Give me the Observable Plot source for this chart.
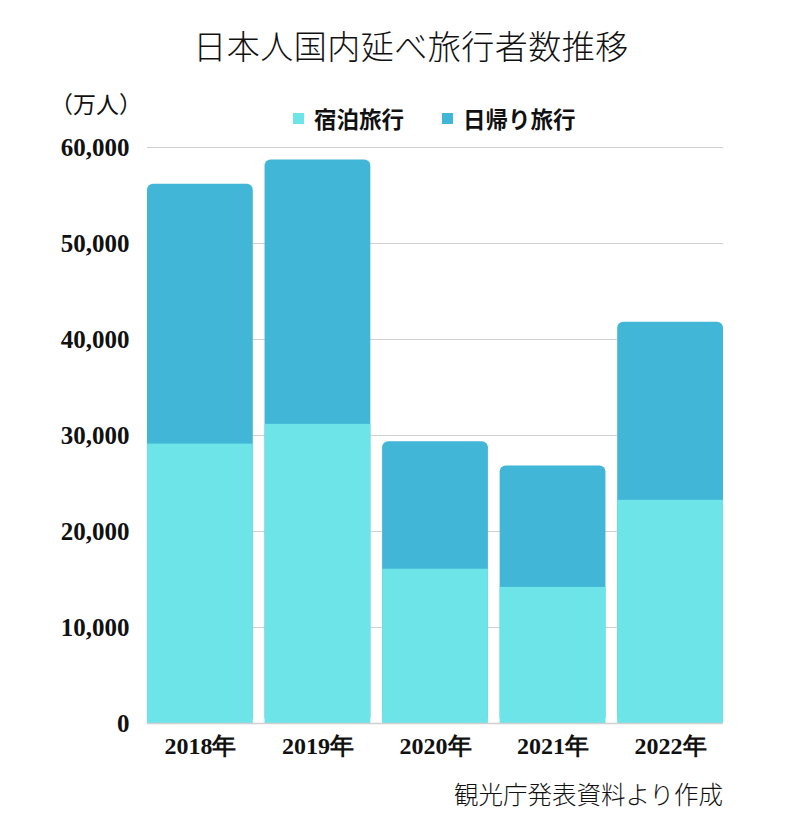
<!DOCTYPE html>
<html><head><meta charset="utf-8">
<script src="https://cdn.jsdelivr.net/npm/d3@7"></script>
<script src="https://cdn.jsdelivr.net/npm/@observablehq/plot@0.6"></script>
<style>
body{margin:0;background:#fff;font-family:"Noto Sans CJK JP",sans-serif;}
#wrap{position:relative;width:804px;height:832px;overflow:hidden;}
#title{position:absolute;left:0;top:21px;width:822px;text-align:center;font-size:33px;font-weight:300;color:#111;letter-spacing:0.5px;}
#unit{position:absolute;left:50px;top:86px;font-size:23px;color:#111;}
#legend{position:absolute;left:293px;top:102px;font-size:22.5px;font-weight:700;color:#111;display:flex;}
.li{display:flex;align-items:center;margin-right:38px;}
.sw{width:11px;height:11px;margin-right:10px;display:inline-block;}
#chart{position:absolute;left:0;top:135px;}
#caption{position:absolute;right:81px;top:776px;font-size:24.5px;font-weight:300;color:#111;}
</style></head>
<body><div id="wrap">
<div id="title">日本人国内延べ旅行者数推移</div>
<div id="unit">（万人）</div>
<div id="legend"></div>
<div id="chart"></div>
<div id="caption">観光庁発表資料より作成</div>
</div>
<script>
const years = ["2018年","2019年","2020年","2021年","2022年"];
const lodging = [29105, 31162, 16070, 14177, 23247];
const dayTrip = [27073, 27548, 13271, 12644, 18539];
const seriesNames = ["宿泊旅行","日帰り旅行"];
const seriesColors = ["#6ce4e8","#41b6d6"];
const yTicks = [0,10000,20000,30000,40000,50000,60000];

const rows = years.map((y,i)=>({year:y, lodging:lodging[i], total:lodging[i]+dayTrip[i]}));

const lg = document.getElementById("legend");
seriesNames.forEach((n,i)=>{
  const d=document.createElement("div");d.className="li";
  d.innerHTML=`<span class="sw" style="background:${seriesColors[i]}"></span><span>${n}</span>`;
  lg.appendChild(d);
});

const chart = Plot.plot({
  width: 804, height: 640,
  marginLeft: 147, marginRight: 81, marginTop: 12, marginBottom: 52,
  style:{fontFamily:"'Liberation Serif','DejaVu Serif',serif", background:"#fff", overflow:"visible"},
  x:{domain:years, paddingInner:0.1, paddingOuter:0, round:false, label:null, tickSize:0, tickPadding:13},
  y:{domain:[0,60000], ticks:yTicks, label:null, tickSize:0, tickPadding:18, tickFormat:d=>d3.format(",")(d)},
  marks:[
    Plot.ruleY(yTicks.slice(1), {stroke:"#d0d0d0", strokeWidth:1}),
    Plot.barY(rows, {x:"year", y1:0, y2:"total", fill:seriesColors[1], rx:6}),
    Plot.barY(rows, {x:"year", y1:0, y2:"lodging", fill:seriesColors[0]}),
    Plot.ruleY([0], {stroke:"#d0d0d0", strokeWidth:1.5})
  ]
});
const yl = chart.querySelector("[aria-label='y-axis tick label']");
if (yl){ yl.setAttribute("font-size","25"); yl.setAttribute("font-weight","bold"); yl.setAttribute("fill","#111"); }
const xl = chart.querySelector("[aria-label='x-axis tick label']");
if (xl){ xl.setAttribute("font-size","24"); xl.setAttribute("font-weight","bold"); xl.setAttribute("fill","#111"); }
document.getElementById("chart").appendChild(chart);
</script>
</body></html>
